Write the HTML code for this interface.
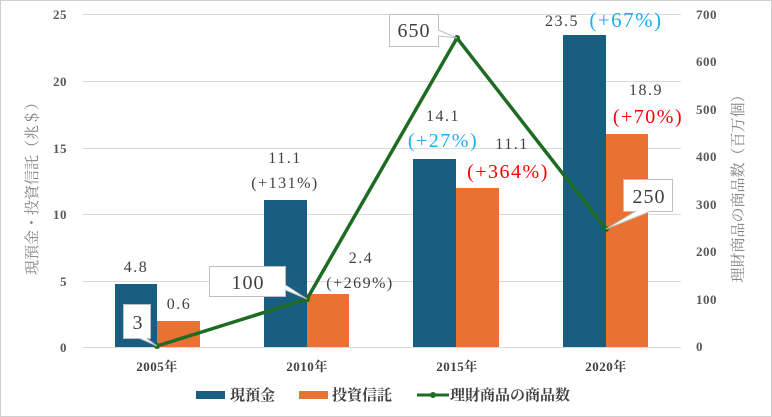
<!DOCTYPE html>
<html><head><meta charset="utf-8"><style>
body{margin:0;background:#fff}
svg{display:block}
text{font-family:"Liberation Serif","Noto Serif CJK JP","Noto Serif CJK SC",serif}
</style></head><body>
<svg width="772" height="417" viewBox="0 0 772 417" xmlns="http://www.w3.org/2000/svg">
<rect x="0.5" y="0.5" width="771" height="416" fill="#fff" stroke="#d0d0d0"/>
<g stroke="#d9d9d9" stroke-width="1">
<line x1="83" x2="681" y1="14.5" y2="14.5"/><line x1="83" x2="681" y1="81.5" y2="81.5"/>
<line x1="83" x2="681" y1="148.5" y2="148.5"/><line x1="83" x2="681" y1="214.5" y2="214.5"/>
<line x1="83" x2="681" y1="281.5" y2="281.5"/><line x1="83" x2="681" y1="347.5" y2="347.5"/>
</g>
<g font-size="13" fill="#595959" text-anchor="end" font-weight="bold" letter-spacing="0.5">
<text x="67" y="19">25</text><text x="67" y="86">20</text><text x="67" y="153">15</text>
<text x="67" y="219">10</text><text x="67" y="286">5</text><text x="67" y="352">0</text>
</g>
<g font-size="13" fill="#595959" text-anchor="start" font-weight="bold" letter-spacing="0.5">
<text x="696" y="19">700</text><text x="696" y="66">600</text><text x="696" y="114">500</text>
<text x="696" y="161">400</text><text x="696" y="209">300</text><text x="696" y="256">200</text>
<text x="696" y="304">100</text><text x="696" y="351">0</text>
</g>
<text transform="translate(37,185) rotate(-90)" font-size="15" fill="#7f7f7f" text-anchor="middle">現預金・投資信託（兆＄）</text>
<text transform="translate(743,185) rotate(-90)" font-size="15" fill="#7f7f7f" text-anchor="middle">理財商品の商品数（百万個）</text>
<g fill="#175e80">
<rect x="115" y="284" width="42" height="63"/><rect x="264" y="200" width="43" height="147"/>
<rect x="413" y="159" width="43" height="188"/><rect x="563" y="35" width="43" height="312"/>
</g>
<g fill="#e97132">
<rect x="157" y="321" width="43" height="26"/><rect x="307" y="294" width="42" height="53"/>
<rect x="456" y="188" width="43" height="159"/><rect x="606" y="134" width="42" height="213"/>
</g>
<polyline points="157,346 307,299 457,38 606,229" fill="none" stroke="#1e6b23" stroke-width="3.5"/>
<g fill="#1e6b23"><circle cx="157" cy="346" r="3"/><circle cx="307" cy="299" r="3"/><circle cx="457" cy="38" r="3"/><circle cx="606" cy="229" r="3"/></g>
<g fill="#fff" stroke="#bfbfbf" stroke-width="1">
<path d="M123.5,304.5 H150.5 V338.5 H147 L157,346 L140,338.5 H123.5 Z"/>
<path d="M209.5,266.5 H285.5 V285 L307,299 L285.5,290 V296.5 H209.5 Z"/>
<path d="M389.5,14.5 H438.5 V30 L457,38 L438.5,36 V46.5 H389.5 Z"/>
<path d="M623.5,179.5 H672.5 V211.5 H650 L606,229 L635,211.5 H623.5 Z"/>
</g>
<g font-size="20" fill="#404040" text-anchor="middle" letter-spacing="1">
<text x="138" y="329">3</text><text x="248" y="289">100</text>
<text x="414" y="37">650</text><text x="649" y="203">250</text>
</g>
<g font-size="16" fill="#404040" text-anchor="middle" letter-spacing="1.5">
<text x="136" y="272">4.8</text><text x="179" y="309">0.6</text>
<text x="285" y="163">11.1</text><text x="285" y="188">(+131%)</text>
<text x="361" y="263">2.4</text><text x="360" y="288">(+269%)</text>
<text x="443" y="121">14.1</text><text x="512" y="149">11.1</text>
<text x="562" y="26">23.5</text><text x="646" y="95">18.9</text>
</g>
<g font-size="20" text-anchor="middle" letter-spacing="1.5">
<text x="443" y="147" fill="#1ab0f0">(+27%)</text>
<text x="508" y="178" fill="#ff0000">(+364%)</text>
<text x="626" y="27" fill="#1ab0f0" font-size="21">(+67%)</text>
<text x="648" y="123" fill="#ff0000">(+70%)</text>
</g>
<g font-size="13" fill="#404040" text-anchor="middle" font-weight="bold" letter-spacing="0.5">
<text x="157" y="371">2005年</text><text x="307" y="371">2010年</text>
<text x="457" y="371">2015年</text><text x="606" y="371">2020年</text>
</g>
<rect x="196" y="391" width="29" height="8" fill="#175e80"/>
<text x="230" y="400" font-size="15" fill="#404040" font-weight="bold">現預金</text>
<rect x="299" y="391" width="29" height="8" fill="#e97132"/>
<text x="332" y="400" font-size="15" fill="#404040" font-weight="bold">投資信託</text>
<line x1="417" x2="449" y1="395" y2="395" stroke="#1e6b23" stroke-width="3"/>
<circle cx="433" cy="395" r="3" fill="#1e6b23"/>
<text x="450" y="400" font-size="15" fill="#404040" font-weight="bold">理財商品の商品数</text>
</svg>
</body></html>
